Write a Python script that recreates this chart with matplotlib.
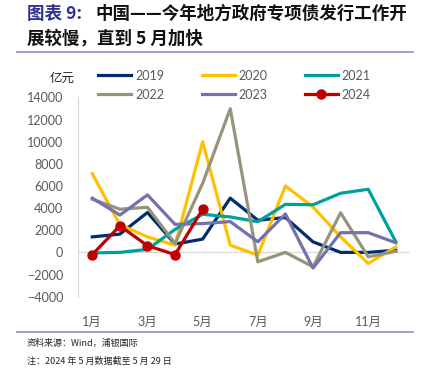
import matplotlib
matplotlib.use("Agg")
import matplotlib.pyplot as plt
from matplotlib.lines import Line2D

plt.rcParams['font.family'] = ['Lato', 'Noto Sans CJK SC', 'DejaVu Sans']

meses = list(range(1, 13))
etiquetas_x = ['1月', '', '3月', '', '5月', '', '7月', '', '9月', '', '11月', '']

anios = ['2019', '2020', '2021', '2022', '2023', '2024']
v2019 = [1400, 1650, 3600, 750, 1200, 4900, 2900, 3150, 950, 0, 0, 200]
v2020 = [7100, 2500, 1400, 650, 10000, 650, -250, 6000, 4100, 1400, -1000, 500]
v2021 = [-50, 0, 270, 2080, 3440, 3200, 2770, 4340, 4300, 5340, 5700, 960]
v2022 = [4800, 3900, 4070, 810, 6240, 12970, -850, 0, -1300, 3580, -400, 100]
v2023 = [4900, 3370, 5190, 2530, 2600, 2780, 960, 3470, -1420, 1780, 1780, 870]
v2024 = [-200, 2400, 600, -200, 3900]

colores = ['#002D72', '#FFC000', '#00A0A0', '#96957A', '#7272AC', '#C00000']
series = [v2019, v2020, v2021, v2022, v2023, v2024]

fig = plt.figure(figsize=(4.28, 3.73), dpi=100)
ax = fig.add_axes([0.1834, 0.2046, 0.957 - 0.1834, 0.739 - 0.2046])

for anio, vals, c in zip(anios, series, colores):
    x = meses[:len(vals)]
    if anio == '2024':
        ax.plot(x, vals, color=c, lw=2.3, marker='o', ms=6.5, label=anio, zorder=5)
    else:
        ax.plot(x, vals, color=c, lw=2.3, label=anio)

ax.set_xlim(0.5, 12.5)
ax.set_ylim(-4000, 14000)
ax.set_yticks(range(-4000, 14001, 2000))
ax.set_xticks(meses)
ax.set_xticklabels(etiquetas_x)
ax.axhline(0, color='#D9D9D9', lw=0.9, zorder=0)

for s in ['top', 'right', 'bottom']:
    ax.spines[s].set_visible(False)
ax.spines['left'].set_color('#D9D9D9')
ax.spines['left'].set_linewidth(0.9)
ax.tick_params(axis='both', length=0, labelsize=9, colors='#595959')
ax.tick_params(axis='y', pad=11)
ax.tick_params(axis='x', pad=14)

fig.text(0.115, 0.79, '亿元', fontsize=9, color='#222222', ha='left', va='center',
         family=['Noto Sans CJK SC'])

# leyenda en orden por filas (matplotlib llena por columnas)
handles = [Line2D([], [], color=c, lw=2.3) for c in colores[:5]]
handles.append(Line2D([], [], color=colores[5], lw=2.3, marker='o', ms=6.5))
orden = [0, 3, 1, 4, 2, 5]
fig.legend([handles[i] for i in orden], [anios[i] for i in orden],
           loc='upper left', bbox_to_anchor=(0.215, 0.83), ncol=3,
           frameon=False, fontsize=9, handlelength=2.64, handletextpad=0.3,
           columnspacing=3.0, labelspacing=0.55, borderpad=0, labelcolor='#595959')

# titulo
fig.text(0.063, 0.962, '图表 9:', fontsize=12.6, fontweight='bold', color='#2E3192',
         family=['Noto Sans CJK SC'], va='center')
fig.text(0.222, 0.962, '中国——今年地方政府专项债发行工作开', fontsize=12.6, fontweight='bold',
         color='#111111', family=['Noto Sans CJK SC'], va='center')
fig.text(0.063, 0.898, '展较慢，直到 5 月加快', fontsize=12.6, fontweight='bold',
         color='#111111', family=['Noto Sans CJK SC'], va='center')

fig.add_artist(Line2D([0.04, 0.965], [0.861, 0.861], color='#8E8CC2', lw=1.2))
fig.add_artist(Line2D([0.04, 0.965], [0.11, 0.11], color='#8E8CC2', lw=1.2))

fig.text(0.063, 0.078, '资料来源：Wind，浦银国际', fontsize=6.5, color='#222222',
         family=['Noto Sans CJK SC'], va='center')
fig.text(0.063, 0.032, '注：2024 年 5 月数据截至 5 月 29 日', fontsize=6.5, color='#222222',
         family=['Noto Sans CJK SC'], va='center')

fig.savefig('out.png', dpi=100)
